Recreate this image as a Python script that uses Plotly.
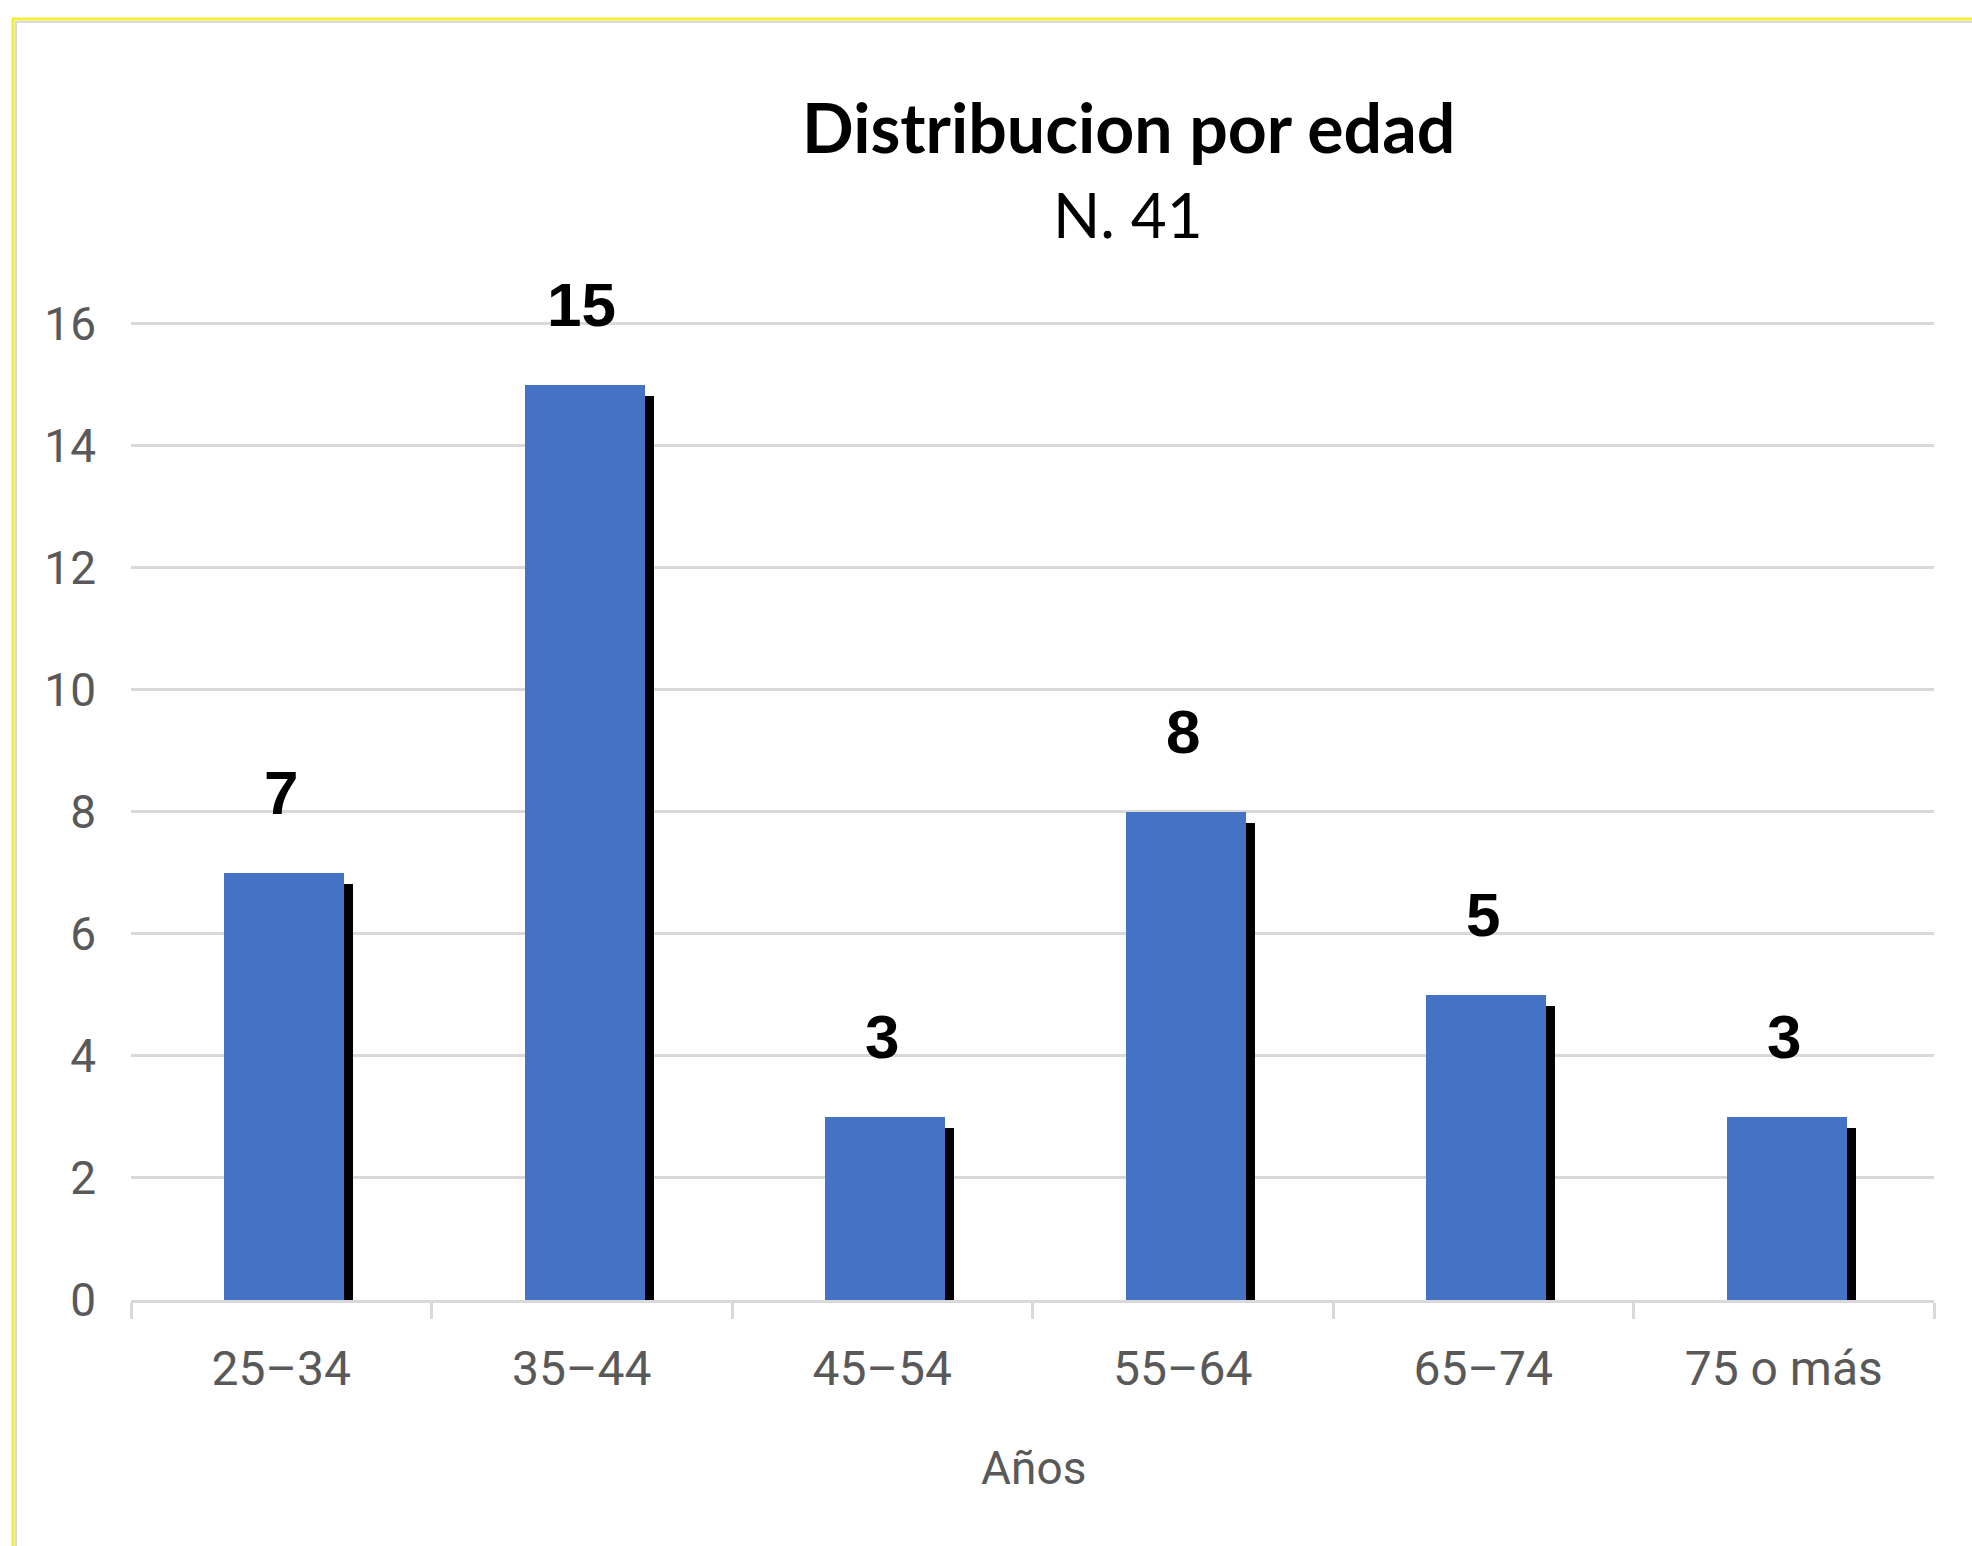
import plotly.graph_objects as go

categories = ["25–34", "35–44", "45–54", "55–64", "65–74", "75 o más"]
values = [7, 15, 3, 8, 5, 3]
y_ticks = [0, 2, 4, 6, 8, 10, 12, 14, 16]

title_text = "Distribucion por edad"
subtitle_text = "N. 41"
x_title = "Años"

W, H = 1972, 1546
y_top = 16.06
ml, mr, mb = 131, 38, 246
unit_px = (H - mb - 324) / 16.0
mt = int(round(324 - (y_top - 16) * unit_px))
plot_w = W - ml - mr
plot_h = H - mt - mb

def px_to_paper_x(px):
    return (px - ml) / plot_w

def px_to_paper_y(py):
    return (H - mb - py) / plot_h

bar_color = "#4472C4"
bar_w = 0.40
bar_off = -bar_w / 2 + 0.01

fig = go.Figure()

# shadow
fig.add_trace(go.Bar(
    x=categories, y=values, base=-0.18,
    width=bar_w, offset=bar_off + 0.03,
    marker=dict(color="#000000", line=dict(width=0)),
    hoverinfo="skip", showlegend=False,
))
# main bars
fig.add_trace(go.Bar(
    x=categories, y=values,
    width=bar_w, offset=bar_off,
    marker=dict(color=bar_color, line=dict(width=0)),
    showlegend=False,
))

annotations = []
for c, v in zip(categories, values):
    annotations.append(dict(
        x=c, y=v, xref="x", yref="y", text=f"<b>{v}</b>",
        showarrow=False, yshift=80, yanchor="middle",
        font=dict(family="Liberation Sans", size=62, color="#000000"),
    ))

annotations.append(dict(
    x=px_to_paper_x(1128), y=px_to_paper_y(126), xref="paper", yref="paper",
    text=f"<b>{title_text}</b>", showarrow=False, xanchor="center", yanchor="middle",
    font=dict(family="Lato", size=68, color="#000000"),
))
annotations.append(dict(
    x=px_to_paper_x(1128), y=px_to_paper_y(214), xref="paper", yref="paper",
    text=subtitle_text, showarrow=False, xanchor="center", yanchor="middle",
    font=dict(family="Lato", size=62, color="#000000"),
))
annotations.append(dict(
    x=px_to_paper_x(1033), y=px_to_paper_y(1468), xref="paper", yref="paper",
    text=x_title, showarrow=False, xanchor="center", yanchor="middle",
    font=dict(family="Roboto", size=46, color="#595959"),
))

shapes = [
    dict(type="rect", xref="paper", yref="paper",
         x0=px_to_paper_x(13), x1=px_to_paper_x(2100),
         y0=px_to_paper_y(1700), y1=px_to_paper_y(19),
         line=dict(color="#F2EE3A", width=3), fillcolor="rgba(0,0,0,0)", layer="below"),
    dict(type="rect", xref="paper", yref="paper",
         x0=px_to_paper_x(16), x1=px_to_paper_x(2100),
         y0=px_to_paper_y(1700), y1=px_to_paper_y(22),
         line=dict(color="#D9D9D9", width=2), fillcolor="rgba(0,0,0,0)", layer="below"),
]

fig.update_layout(
    width=W, height=H,
    margin=dict(l=ml, r=mr, t=mt, b=mb, pad=0),
    paper_bgcolor="white", plot_bgcolor="white",
    barmode="overlay", bargap=0,
    annotations=annotations, shapes=shapes,
    font=dict(family="Roboto", color="#595959"),
)
fig.update_xaxes(
    type="category", showgrid=False, showline=True, linecolor="#D9D9D9", linewidth=3,
    ticks="outside", tickson="boundaries", ticklen=16, tickwidth=3, tickcolor="#D9D9D9",
    tickfont=dict(family="Roboto", size=48, color="#595959"), ticklabelstandoff=24,
)
fig.update_yaxes(
    range=[0, y_top], tickvals=y_ticks, showgrid=True, gridcolor="#D9D9D9", gridwidth=3,
    zeroline=False, showline=False, ticks="",
    tickfont=dict(family="Roboto", size=46, color="#595959"), ticklabelstandoff=34,
)

fig.write_html("out.html")
